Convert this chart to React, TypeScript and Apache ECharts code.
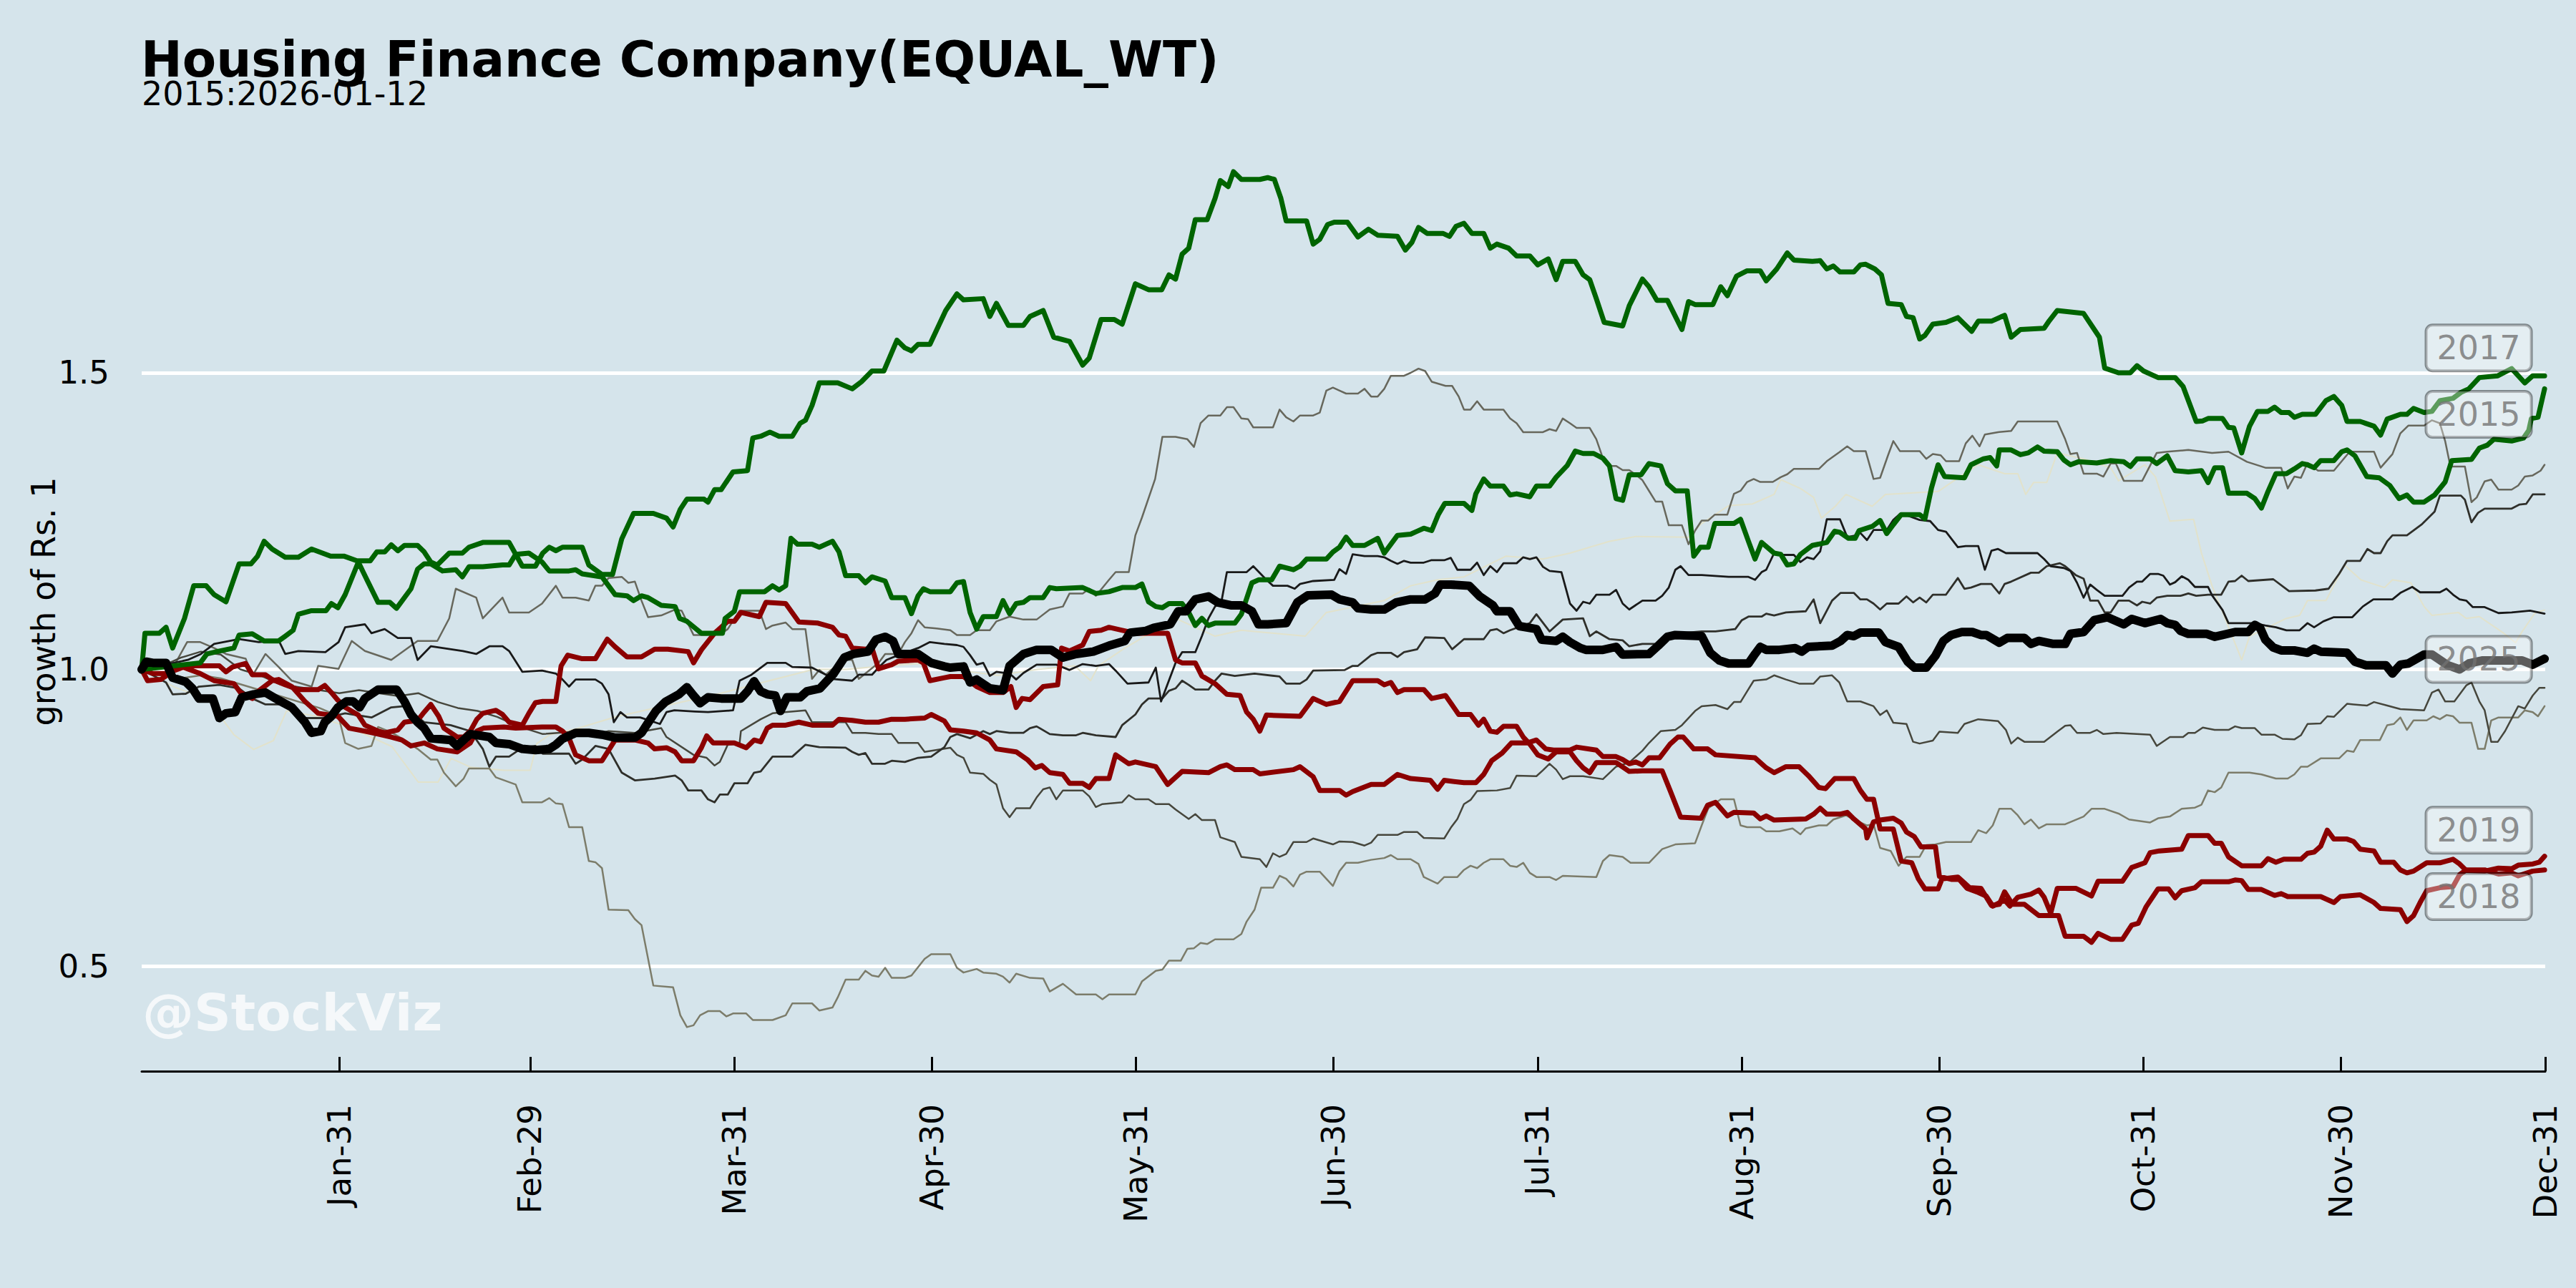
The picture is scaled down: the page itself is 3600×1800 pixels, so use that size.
import React, { useEffect, useRef } from 'react';
import * as echarts from 'echarts';

const FONT = '"DejaVu Sans", "Liberation Sans", sans-serif';

const titleText = 'Housing Finance Company(EQUAL_WT)';
const subtitleText = '2015:2026-01-12';
const watermarkText = '@StockViz';
const yAxisName = 'growth of Rs. 1';

const tickDays = [30, 59, 90, 120, 151, 181, 212, 243, 273, 304, 334, 365];
const tickLabels = ['Jan-31', 'Feb-29', 'Mar-31', 'Apr-30', 'May-31', 'Jun-30', 'Jul-31', 'Aug-31', 'Sep-30', 'Oct-31', 'Nov-30', 'Dec-31'];
const yTicks = [0.5, 1.0, 1.5];
const yTickLabels = ['0.5', '1.0', '1.5'];
const Y_MIN = 0.3227;
const Y_MAX = 1.9065;

const labelYears = ['2017', '2015', '2025', '2019', '2018'];
const labelValues = [1.542, 1.43, 1.017, 0.729, 0.617];
const labelDay = 354.9;

const y2017 = [[0,1.0],[0.5,1.061],[2.7,1.061],[3.7,1.071],[4.7,1.036],[6.5,1.086],[7.9,1.141],[9.8,1.141],[11.0,1.126],[12.8,1.114],[14.8,1.178],[16.6,1.178],[17.6,1.191],[18.6,1.216],[19.8,1.203],[21.8,1.189],[23.8,1.189],[25.8,1.203],[28.7,1.191],[30.7,1.191],[32.7,1.183],[34.7,1.183],[35.7,1.198],[36.9,1.198],[37.9,1.210],[38.9,1.200],[39.9,1.209],[41.9,1.209],[42.9,1.198],[43.9,1.181],[44.9,1.176],[46.7,1.196],[48.7,1.196],[49.7,1.206],[51.8,1.214],[55.8,1.214],[57.8,1.174],[59.8,1.174],[60.9,1.196],[61.9,1.206],[62.9,1.200],[63.9,1.206],[66.9,1.206],[67.9,1.176],[69.9,1.160],[71.5,1.160],[72.9,1.220],[74.7,1.263],[77.7,1.263],[79.7,1.255],[80.7,1.240],[81.8,1.270],[82.8,1.287],[85.4,1.287],[86.0,1.282],[87.0,1.303],[88.0,1.303],[89.8,1.333],[92.0,1.335],[92.8,1.390],[94.0,1.393],[95.4,1.400],[96.8,1.393],[98.8,1.393],[100.0,1.415],[100.8,1.420],[101.8,1.445],[102.9,1.483],[105.7,1.483],[107.9,1.473],[109.3,1.485],[110.9,1.503],[112.7,1.503],[114.7,1.555],[115.9,1.542],[116.9,1.537],[117.9,1.548],[119.7,1.548],[122.1,1.605],[123.8,1.633],[124.8,1.623],[127.8,1.625],[128.8,1.595],[129.8,1.617],[131.6,1.580],[133.9,1.580],[134.9,1.595],[136.9,1.605],[138.5,1.560],[140.9,1.553],[142.9,1.513],[143.9,1.525],[145.7,1.590],[147.7,1.590],[148.9,1.582],[150.9,1.650],[152.9,1.640],[154.9,1.640],[156.0,1.665],[157.0,1.658],[158.0,1.700],[159.0,1.710],[160.0,1.758],[161.8,1.758],[163.0,1.794],[163.8,1.824],[165.0,1.814],[165.8,1.839],[167.0,1.826],[169.8,1.826],[171.0,1.829],[172.0,1.826],[173.0,1.794],[173.8,1.756],[176.9,1.756],[177.9,1.717],[178.9,1.725],[180.1,1.750],[181.1,1.754],[183.1,1.754],[184.7,1.729],[186.3,1.742],[187.7,1.732],[190.7,1.730],[191.9,1.707],[192.9,1.720],[193.9,1.745],[195.2,1.735],[197.6,1.735],[198.6,1.730],[199.6,1.747],[200.8,1.752],[202.0,1.735],[203.8,1.735],[204.8,1.710],[205.8,1.717],[207.6,1.710],[208.8,1.697],[210.8,1.697],[212.0,1.682],[213.6,1.692],[214.8,1.657],[215.8,1.688],[217.7,1.688],[218.9,1.665],[219.9,1.657],[220.9,1.625],[222.1,1.585],[224.9,1.579],[225.9,1.613],[227.9,1.658],[228.9,1.645],[230.1,1.622],[231.7,1.622],[233.9,1.573],[234.9,1.620],[235.9,1.615],[238.6,1.615],[239.8,1.645],[240.8,1.630],[242.2,1.663],[243.8,1.672],[245.8,1.672],[246.7,1.655],[248.3,1.675],[249.9,1.702],[250.9,1.690],[253.7,1.688],[254.9,1.689],[255.9,1.675],[256.9,1.680],[257.9,1.670],[260.0,1.670],[261.0,1.682],[261.8,1.683],[263.2,1.675],[264.2,1.665],[265.2,1.617],[267.2,1.615],[268.0,1.595],[269.0,1.593],[270.0,1.557],[270.8,1.563],[272.0,1.582],[274.0,1.585],[275.8,1.593],[277.9,1.570],[278.9,1.587],[280.9,1.587],[282.9,1.597],[283.9,1.560],[285.3,1.573],[288.9,1.575],[289.7,1.588],[290.9,1.605],[294.9,1.600],[297.3,1.560],[298.1,1.508],[300.2,1.500],[302.0,1.500],[303.0,1.512],[304.0,1.503],[306.2,1.492],[308.8,1.492],[310.0,1.477],[312.0,1.418],[313.0,1.419],[313.8,1.423],[316.0,1.423],[316.9,1.408],[317.7,1.407],[318.9,1.365],[320.1,1.410],[321.3,1.435],[322.9,1.435],[323.9,1.442],[324.9,1.433],[326.1,1.433],[326.9,1.425],[328.1,1.430],[330.1,1.430],[331.7,1.453],[332.9,1.460],[334.1,1.445],[334.9,1.418],[336.9,1.418],[339.0,1.410],[340.0,1.395],[341.0,1.422],[343.0,1.430],[344.0,1.430],[345.0,1.440],[346.6,1.433],[347.8,1.435],[349.0,1.453],[351.0,1.457],[352.2,1.467],[353.4,1.473],[355.0,1.492],[357.8,1.495],[359.9,1.507],[361.9,1.483],[363.1,1.495],[364.9,1.495]];

const y2015 = [[0,1.0],[4.9,1.006],[8.9,1.011],[9.9,1.026],[11.8,1.031],[14.0,1.036],[14.8,1.058],[16.8,1.060],[18.6,1.048],[20.8,1.048],[21.8,1.056],[23.0,1.066],[23.8,1.093],[25.8,1.099],[28.0,1.099],[28.8,1.111],[29.8,1.104],[30.9,1.126],[32.9,1.181],[33.9,1.158],[35.9,1.113],[37.7,1.113],[38.7,1.103],[40.9,1.136],[41.9,1.169],[42.9,1.178],[43.9,1.178],[45.7,1.166],[47.7,1.168],[48.7,1.156],[49.7,1.173],[51.8,1.173],[54.8,1.176],[55.8,1.176],[56.8,1.194],[58.8,1.196],[60.8,1.181],[61.9,1.166],[64.9,1.166],[65.9,1.168],[66.9,1.161],[69.9,1.156],[71.9,1.126],[73.7,1.124],[74.7,1.116],[75.9,1.124],[76.9,1.121],[78.9,1.108],[81.0,1.106],[81.7,1.086],[82.8,1.081],[85.0,1.061],[88.2,1.061],[88.6,1.086],[90.0,1.098],[90.8,1.131],[94.6,1.131],[95.8,1.141],[96.8,1.134],[97.8,1.141],[98.6,1.221],[99.6,1.211],[101.8,1.211],[102.9,1.206],[104.9,1.216],[105.9,1.198],[106.9,1.158],[108.9,1.158],[109.9,1.146],[110.9,1.156],[112.9,1.149],[113.9,1.121],[115.9,1.121],[116.9,1.094],[117.9,1.124],[118.7,1.136],[119.7,1.131],[122.8,1.131],[123.8,1.146],[124.8,1.148],[125.8,1.096],[126.8,1.068],[127.8,1.089],[129.8,1.089],[130.8,1.116],[131.8,1.094],[132.8,1.111],[133.9,1.113],[134.9,1.121],[136.9,1.121],[137.9,1.138],[138.9,1.136],[142.9,1.138],[144.9,1.128],[146.9,1.131],[148.9,1.138],[150.9,1.138],[151.9,1.144],[152.9,1.114],[154.0,1.106],[155.0,1.104],[156.0,1.111],[158.0,1.111],[159.0,1.096],[160.0,1.074],[161.0,1.086],[162.0,1.074],[163.0,1.078],[166.0,1.078],[167.0,1.093],[168.6,1.146],[169.6,1.151],[171.6,1.151],[172.8,1.174],[174.9,1.168],[175.9,1.174],[176.9,1.186],[179.9,1.186],[180.9,1.198],[181.9,1.206],[182.9,1.223],[183.9,1.209],[185.7,1.209],[187.7,1.221],[188.7,1.196],[190.7,1.226],[192.7,1.228],[193.7,1.233],[194.7,1.238],[195.9,1.234],[196.9,1.261],[197.9,1.280],[200.8,1.280],[202.0,1.268],[202.6,1.296],[203.8,1.321],[204.8,1.309],[206.8,1.309],[207.8,1.294],[208.8,1.296],[210.8,1.291],[211.8,1.309],[213.8,1.309],[214.8,1.324],[216.5,1.344],[217.7,1.368],[218.9,1.364],[220.5,1.364],[221.9,1.356],[222.9,1.343],[223.9,1.288],[224.9,1.285],[225.9,1.328],[227.7,1.328],[228.9,1.347],[230.7,1.343],[231.7,1.313],[232.9,1.301],[234.7,1.301],[235.7,1.191],[236.7,1.206],[237.9,1.206],[238.9,1.246],[241.8,1.246],[242.8,1.253],[244.0,1.216],[245.0,1.186],[246.0,1.214],[247.9,1.196],[248.9,1.194],[249.9,1.176],[250.9,1.178],[251.9,1.194],[253.7,1.209],[255.9,1.214],[257.1,1.233],[257.9,1.231],[259.2,1.221],[260.2,1.221],[260.8,1.234],[262.8,1.241],[264.0,1.251],[265.0,1.229],[266.0,1.244],[267.2,1.261],[270.0,1.261],[270.8,1.254],[271.8,1.306],[272.8,1.345],[273.8,1.325],[276.8,1.323],[277.8,1.345],[279.7,1.355],[280.7,1.357],[281.7,1.343],[282.1,1.370],[283.9,1.370],[285.3,1.362],[286.5,1.365],[287.9,1.375],[288.9,1.368],[290.9,1.367],[291.9,1.353],[292.9,1.345],[294.1,1.350],[296.9,1.348],[299.0,1.352],[301.0,1.350],[302.0,1.342],[303.0,1.355],[305.0,1.355],[306.0,1.347],[307.6,1.360],[308.8,1.335],[310.8,1.333],[312.8,1.335],[313.8,1.315],[314.8,1.340],[316.0,1.340],[316.9,1.297],[319.7,1.297],[320.9,1.288],[321.9,1.272],[322.9,1.300],[324.1,1.330],[325.7,1.330],[326.9,1.338],[328.1,1.347],[328.9,1.345],[329.9,1.340],[330.9,1.352],[332.9,1.352],[334.1,1.367],[334.9,1.370],[336.1,1.360],[337.9,1.325],[339.8,1.323],[341.4,1.310],[342.8,1.288],[344.0,1.294],[345.0,1.282],[346.6,1.282],[348.2,1.294],[349.8,1.316],[350.8,1.352],[353.8,1.354],[355.0,1.373],[356.2,1.378],[357.2,1.388],[359.9,1.385],[361.7,1.390],[362.5,1.403],[362.9,1.423],[363.9,1.425],[364.9,1.473]];

const y2025 = [[0,1.0],[0.7,1.013],[1.7,1.011],[3.7,1.011],[4.7,0.986],[6.7,0.979],[7.7,0.968],[8.7,0.951],[10.8,0.951],[11.8,0.918],[12.8,0.926],[14.2,0.928],[15.2,0.953],[17.0,0.958],[18.8,0.961],[20.8,0.948],[22.8,0.936],[24.8,0.911],[25.8,0.893],[27.2,0.896],[27.8,0.911],[28.8,0.921],[29.8,0.936],[31.1,0.946],[32.1,0.946],[33.1,0.936],[33.9,0.951],[35.9,0.966],[38.7,0.966],[39.9,0.946],[40.9,0.924],[41.9,0.911],[42.9,0.901],[43.9,0.884],[46.9,0.881],[47.9,0.871],[48.9,0.881],[49.9,0.891],[52.8,0.886],[53.8,0.876],[55.8,0.874],[57.8,0.866],[59.8,0.864],[61.9,0.866],[62.9,0.873],[63.9,0.883],[65.9,0.893],[67.9,0.893],[69.9,0.890],[71.9,0.885],[74.9,0.885],[75.9,0.893],[76.9,0.910],[78.1,0.930],[79.5,0.945],[81.6,0.958],[82.8,0.970],[83.8,0.956],[84.8,0.943],[86.0,0.953],[88.0,0.951],[91.0,0.951],[92.0,0.963],[93.0,0.980],[94.0,0.963],[95.0,0.958],[96.2,0.956],[97.0,0.930],[98.0,0.953],[100.0,0.953],[101.0,0.963],[103.0,0.968],[105.1,0.993],[106.7,1.020],[108.1,1.026],[110.3,1.030],[111.5,1.050],[112.9,1.055],[114.1,1.048],[114.9,1.026],[117.9,1.026],[118.7,1.020],[119.9,1.011],[121.9,1.005],[122.8,1.003],[124.8,1.005],[125.8,0.978],[126.8,0.983],[128.8,0.968],[130.8,0.965],[131.8,1.006],[133.9,1.026],[135.9,1.033],[138.1,1.033],[139.9,1.020],[141.9,1.026],[144.5,1.030],[146.9,1.040],[149.3,1.048],[150.1,1.062],[152.5,1.065],[153.7,1.070],[156.2,1.076],[157.4,1.098],[158.6,1.098],[160.0,1.118],[162.0,1.123],[163.4,1.113],[165.4,1.108],[167.0,1.108],[168.6,1.098],[169.6,1.076],[171.0,1.076],[173.8,1.078],[175.5,1.113],[177.1,1.125],[180.7,1.126],[181.9,1.118],[183.9,1.113],[184.7,1.103],[186.7,1.101],[188.7,1.101],[190.5,1.113],[192.7,1.118],[194.9,1.118],[196.4,1.128],[197.2,1.143],[198.8,1.143],[201.6,1.141],[203.2,1.123],[205.2,1.108],[205.8,1.098],[207.8,1.098],[209.2,1.073],[211.8,1.068],[212.6,1.050],[214.8,1.048],[215.8,1.055],[216.9,1.046],[218.5,1.036],[219.3,1.033],[221.9,1.033],[223.9,1.038],[224.9,1.025],[228.9,1.026],[230.3,1.040],[231.7,1.055],[232.9,1.058],[236.9,1.056],[238.2,1.028],[239.6,1.015],[241.0,1.010],[244.0,1.010],[245.0,1.026],[245.8,1.038],[246.7,1.033],[248.7,1.033],[251.1,1.036],[252.1,1.030],[253.1,1.038],[256.7,1.040],[258.0,1.048],[259.0,1.058],[260.0,1.056],[261.0,1.062],[263.8,1.062],[264.8,1.046],[266.8,1.038],[268.2,1.013],[269.2,1.003],[271.0,1.003],[272.4,1.023],[273.6,1.048],[274.8,1.058],[276.4,1.063],[278.0,1.063],[279.3,1.058],[280.1,1.058],[282.1,1.045],[283.3,1.053],[285.9,1.053],[286.9,1.043],[288.1,1.048],[290.3,1.043],[292.1,1.043],[292.9,1.060],[294.9,1.063],[296.5,1.083],[298.5,1.088],[301.0,1.076],[302.2,1.085],[304.2,1.078],[306.6,1.085],[307.6,1.078],[308.8,1.075],[309.6,1.065],[310.8,1.060],[313.6,1.060],[314.8,1.055],[316.0,1.058],[317.9,1.063],[319.9,1.063],[320.9,1.075],[321.7,1.070],[322.5,1.050],[323.7,1.037],[324.9,1.032],[326.9,1.032],[328.9,1.028],[329.9,1.035],[330.9,1.030],[334.9,1.028],[336.1,1.013],[337.8,1.007],[340.8,1.007],[341.8,0.993],[343.0,1.008],[344.2,1.010],[346.6,1.025],[347.8,1.025],[350.2,1.007],[352.0,1.000],[353.4,1.010],[355.4,1.015],[359.9,1.015],[361.5,1.015],[363.1,1.008],[364.9,1.018]];

const y2018 = [[0,1.0],[1.7,0.993],[3.7,0.993],[5.7,1.006],[8.9,0.993],[11.0,0.981],[14.0,0.976],[15.0,0.961],[16.8,0.951],[17.8,0.964],[19.8,0.981],[20.8,0.983],[22.8,0.971],[24.8,0.946],[26.8,0.926],[29.8,0.921],[31.5,0.901],[33.9,0.896],[35.9,0.891],[37.9,0.886],[39.5,0.881],[40.9,0.871],[42.9,0.876],[44.9,0.866],[47.9,0.861],[49.9,0.876],[50.9,0.896],[51.9,0.901],[55.0,0.903],[56.8,0.901],[60.8,0.903],[62.9,0.903],[63.9,0.896],[64.9,0.884],[65.9,0.856],[67.9,0.846],[69.9,0.846],[71.9,0.881],[74.9,0.881],[76.9,0.876],[77.9,0.866],[79.7,0.868],[81.0,0.861],[82.0,0.846],[83.8,0.846],[85.0,0.868],[85.8,0.888],[86.8,0.876],[90.0,0.876],[91.8,0.868],[93.0,0.881],[94.0,0.878],[95.0,0.901],[95.8,0.906],[97.8,0.906],[99.8,0.911],[101.8,0.906],[104.9,0.906],[105.9,0.916],[107.9,0.914],[109.9,0.911],[111.9,0.911],[113.9,0.916],[115.9,0.916],[118.9,0.918],[119.9,0.924],[121.9,0.913],[122.8,0.898],[124.8,0.896],[126.8,0.893],[128.8,0.881],[129.8,0.866],[132.8,0.861],[134.5,0.848],[135.7,0.834],[136.7,0.838],[137.9,0.826],[139.9,0.823],[140.9,0.808],[142.9,0.808],[143.9,0.801],[144.9,0.816],[146.9,0.816],[147.9,0.856],[149.9,0.841],[150.9,0.844],[154.0,0.836],[155.8,0.806],[158.0,0.828],[162.0,0.826],[163.8,0.836],[164.8,0.839],[166.0,0.831],[168.8,0.831],[169.8,0.824],[174.9,0.831],[175.9,0.836],[177.9,0.819],[178.9,0.796],[181.9,0.796],[182.9,0.788],[183.9,0.794],[186.7,0.806],[188.7,0.806],[190.7,0.823],[192.7,0.816],[195.7,0.813],[196.8,0.798],[197.8,0.813],[200.8,0.809],[202.6,0.809],[203.8,0.823],[205.0,0.846],[206.6,0.859],[208.0,0.876],[210.4,0.876],[211.8,0.881],[213.2,0.866],[214.4,0.864],[216.9,0.864],[217.9,0.869],[220.9,0.864],[221.9,0.853],[223.9,0.853],[224.9,0.848],[225.9,0.841],[226.9,0.844],[227.9,0.839],[228.9,0.851],[230.5,0.851],[232.1,0.874],[233.3,0.886],[234.1,0.886],[235.7,0.866],[237.8,0.866],[239.0,0.856],[245.0,0.851],[246.0,0.841],[246.7,0.834],[247.9,0.826],[249.7,0.836],[251.7,0.836],[253.1,0.821],[254.7,0.801],[255.7,0.799],[257.1,0.816],[260.0,0.816],[261.0,0.796],[262.0,0.781],[263.0,0.781],[264.0,0.731],[266.0,0.731],[267.2,0.677],[268.8,0.674],[269.8,0.647],[270.8,0.630],[272.8,0.630],[273.4,0.647],[275.8,0.650],[277.6,0.632],[279.3,0.631],[280.9,0.602],[282.1,0.604],[282.9,0.625],[284.1,0.604],[285.9,0.604],[288.1,0.585],[291.1,0.585],[292.1,0.550],[294.9,0.550],[296.1,0.540],[297.1,0.555],[299.0,0.545],[300.8,0.545],[302.2,0.569],[303.2,0.572],[304.4,0.600],[306.2,0.630],[307.8,0.630],[308.8,0.615],[309.8,0.627],[311.8,0.632],[312.8,0.642],[316.9,0.642],[317.9,0.645],[318.9,0.644],[319.9,0.629],[321.9,0.629],[323.9,0.619],[324.9,0.622],[325.9,0.617],[330.9,0.617],[332.9,0.607],[333.9,0.617],[336.9,0.620],[339.0,0.607],[340.0,0.597],[343.0,0.595],[344.0,0.575],[345.0,0.585],[346.0,0.607],[347.0,0.627],[349.0,0.632],[351.0,0.634],[352.0,0.654],[353.0,0.662],[355.8,0.662],[357.9,0.655],[359.9,0.657],[360.9,0.652],[363.1,0.660],[364.9,0.662]];

const y2019 = [[0,1.0],[0.9,0.981],[2.9,0.983],[4.9,0.998],[6.9,1.006],[11.8,1.006],[12.8,0.996],[13.8,1.004],[15.8,1.010],[16.8,0.991],[18.8,0.991],[19.8,0.983],[21.8,0.974],[23.8,0.966],[26.8,0.966],[27.8,0.973],[28.8,0.961],[29.8,0.948],[30.9,0.936],[32.9,0.923],[33.9,0.906],[35.9,0.896],[36.9,0.893],[38.9,0.898],[39.9,0.911],[41.9,0.914],[42.9,0.928],[43.9,0.941],[45.1,0.921],[45.9,0.901],[47.9,0.886],[48.9,0.886],[49.9,0.896],[50.9,0.916],[51.8,0.926],[53.8,0.931],[54.8,0.924],[55.8,0.911],[57.8,0.906],[58.8,0.926],[59.8,0.944],[60.9,0.946],[62.9,0.946],[63.7,1.006],[64.7,1.024],[66.9,1.018],[68.9,1.018],[70.7,1.051],[71.9,1.038],[73.7,1.021],[75.9,1.021],[77.9,1.034],[79.9,1.034],[83.0,1.030],[83.8,1.011],[85.0,1.033],[87.0,1.061],[89.0,1.081],[90.0,1.081],[91.0,1.096],[93.8,1.089],[94.8,1.113],[97.8,1.111],[99.8,1.080],[102.7,1.078],[104.9,1.071],[105.9,1.058],[106.9,1.056],[107.9,1.036],[109.9,1.034],[110.9,1.036],[111.9,1.001],[113.9,1.008],[114.9,1.014],[117.9,1.016],[118.7,1.011],[119.7,0.981],[121.9,0.986],[122.8,0.988],[124.8,0.988],[126.8,0.971],[128.8,0.961],[130.8,0.961],[132.0,0.971],[132.8,0.936],[133.7,0.951],[134.9,0.949],[136.9,0.971],[139.1,0.974],[139.7,1.036],[140.9,1.031],[142.9,1.041],[143.9,1.064],[145.7,1.066],[146.9,1.071],[148.9,1.066],[150.9,1.061],[155.8,1.061],[157.0,1.016],[158.0,1.011],[160.0,1.011],[161.0,0.989],[163.0,0.976],[164.8,0.958],[166.8,0.956],[167.8,0.928],[168.8,0.916],[169.8,0.896],[170.8,0.923],[175.9,0.921],[177.9,0.951],[179.9,0.941],[181.9,0.946],[183.9,0.981],[187.7,0.981],[188.7,0.974],[189.7,0.978],[190.7,0.961],[191.7,0.966],[194.7,0.966],[195.9,0.951],[198.0,0.956],[200.0,0.924],[201.8,0.924],[203.0,0.906],[203.8,0.916],[204.8,0.896],[205.8,0.894],[206.8,0.904],[208.8,0.904],[209.8,0.886],[210.8,0.874],[212.0,0.856],[213.6,0.849],[214.8,0.861],[216.9,0.861],[217.9,0.846],[218.9,0.834],[219.9,0.826],[220.9,0.843],[223.9,0.843],[225.9,0.828],[227.9,0.829],[230.9,0.829],[232.1,0.796],[233.7,0.751],[236.8,0.749],[237.8,0.771],[239.0,0.776],[240.8,0.753],[241.8,0.759],[244.8,0.758],[245.8,0.748],[246.7,0.753],[247.9,0.746],[252.7,0.748],[253.9,0.756],[254.9,0.766],[255.9,0.756],[257.9,0.756],[259.0,0.759],[260.0,0.748],[261.8,0.731],[262.0,0.716],[263.0,0.743],[264.0,0.746],[266.0,0.749],[267.2,0.741],[268.0,0.726],[269.2,0.718],[270.2,0.701],[272.4,0.701],[273.0,0.651],[274.8,0.646],[276.0,0.646],[277.2,0.631],[278.9,0.624],[280.1,0.618],[281.1,0.601],[282.9,0.611],[283.7,0.601],[284.9,0.616],[286.9,0.621],[288.1,0.628],[288.9,0.616],[289.9,0.589],[290.9,0.631],[293.7,0.631],[296.1,0.618],[297.1,0.643],[300.8,0.643],[302.2,0.666],[304.2,0.674],[305.0,0.691],[306.4,0.694],[309.8,0.697],[310.8,0.720],[313.8,0.720],[314.8,0.707],[315.8,0.707],[316.9,0.684],[318.9,0.669],[321.9,0.669],[322.9,0.681],[324.1,0.675],[325.3,0.680],[327.9,0.680],[328.9,0.690],[329.9,0.692],[330.9,0.702],[331.9,0.729],[332.9,0.714],[334.9,0.714],[335.9,0.710],[336.9,0.697],[339.0,0.694],[340.0,0.675],[342.0,0.675],[343.0,0.662],[344.0,0.657],[345.0,0.660],[347.0,0.674],[349.0,0.674],[351.0,0.680],[352.0,0.672],[353.0,0.661],[355.8,0.660],[357.9,0.665],[359.9,0.664],[360.9,0.670],[363.1,0.672],[364.1,0.675],[364.9,0.685]];

const y2016 = [[0,1.0],[2.9,1.006],[4.9,1.006],[6.9,1.046],[8.9,1.046],[11.0,1.036],[12.8,1.026],[15.8,1.018],[16.8,0.989],[18.8,1.026],[20.8,1.004],[22.8,0.981],[25.8,0.971],[26.8,1.006],[29.9,1.001],[31.9,1.048],[33.9,1.031],[37.9,1.016],[41.9,1.048],[44.9,1.048],[46.7,1.086],[47.7,1.136],[50.8,1.121],[51.8,1.086],[54.8,1.121],[55.8,1.096],[58.8,1.096],[60.8,1.111],[62.9,1.141],[63.9,1.121],[65.9,1.121],[67.9,1.116],[68.9,1.141],[69.9,1.141],[70.9,1.154],[72.9,1.156],[73.9,1.146],[74.9,1.148],[75.9,1.116],[76.9,1.088],[78.9,1.091],[81.0,1.101],[82.0,1.099],[83.8,1.058],[85.8,1.058],[88.0,1.060],[89.0,1.068],[90.8,1.099],[93.8,1.099],[94.8,1.068],[95.8,1.074],[97.8,1.079],[98.8,1.068],[100.8,1.068],[101.8,0.984],[102.9,0.999],[103.9,0.991],[104.9,1.001],[106.9,1.016],[107.9,1.016],[108.9,0.984],[109.9,0.993],[111.9,1.011],[112.9,1.026],[114.9,1.026],[115.9,1.046],[116.9,1.061],[117.9,1.083],[118.9,1.071],[120.7,1.069],[122.8,1.066],[123.8,1.058],[125.8,1.058],[126.8,1.066],[128.8,1.066],[129.8,1.081],[131.8,1.089],[133.9,1.084],[135.9,1.084],[137.9,1.101],[139.9,1.106],[140.9,1.128],[142.9,1.128],[143.9,1.136],[144.9,1.124],[146.9,1.151],[147.9,1.164],[149.9,1.164],[150.9,1.226],[151.9,1.256],[153.9,1.321],[155.0,1.392],[157.0,1.392],[158.8,1.388],[159.8,1.375],[160.8,1.415],[162.0,1.428],[163.8,1.428],[164.8,1.442],[165.8,1.442],[167.0,1.423],[168.0,1.422],[168.8,1.408],[171.8,1.408],[172.8,1.438],[173.8,1.425],[174.9,1.418],[175.9,1.428],[177.9,1.428],[178.9,1.433],[179.9,1.470],[180.9,1.475],[181.9,1.470],[182.9,1.465],[184.7,1.465],[185.7,1.473],[186.7,1.460],[187.7,1.460],[188.7,1.473],[189.7,1.495],[191.7,1.495],[192.7,1.500],[193.9,1.507],[194.9,1.503],[195.9,1.485],[198.0,1.478],[199.0,1.478],[200.0,1.460],[200.8,1.438],[201.8,1.438],[202.8,1.452],[203.8,1.438],[206.8,1.438],[207.8,1.423],[208.8,1.415],[209.8,1.400],[212.8,1.400],[213.8,1.405],[214.8,1.402],[215.8,1.423],[216.9,1.415],[217.9,1.407],[219.9,1.407],[220.9,1.388],[221.9,1.356],[222.9,1.343],[223.9,1.343],[224.9,1.336],[225.9,1.336],[226.9,1.328],[227.9,1.319],[228.9,1.301],[229.9,1.283],[230.9,1.283],[231.9,1.243],[233.9,1.243],[234.9,1.211],[235.9,1.234],[236.9,1.251],[237.9,1.251],[238.9,1.261],[240.8,1.261],[241.8,1.296],[242.8,1.301],[243.8,1.316],[244.8,1.321],[245.8,1.316],[247.7,1.316],[248.9,1.324],[249.9,1.329],[250.9,1.338],[254.7,1.338],[255.9,1.351],[257.8,1.366],[259.0,1.376],[260.0,1.368],[261.8,1.368],[263.0,1.321],[264.0,1.323],[265.2,1.361],[266.0,1.385],[267.0,1.368],[270.0,1.368],[271.0,1.355],[272.0,1.363],[273.2,1.361],[274.0,1.351],[276.0,1.351],[277.0,1.381],[278.0,1.394],[279.1,1.376],[279.9,1.396],[281.9,1.400],[283.9,1.402],[284.9,1.418],[290.9,1.418],[292.1,1.388],[292.9,1.363],[293.9,1.365],[294.9,1.330],[296.9,1.330],[297.9,1.325],[299.0,1.347],[299.8,1.347],[301.0,1.318],[303.8,1.318],[306.0,1.365],[307.6,1.367],[310.8,1.370],[314.4,1.365],[316.9,1.367],[319.7,1.350],[322.5,1.340],[324.9,1.340],[325.9,1.305],[326.9,1.325],[327.9,1.323],[328.9,1.348],[330.5,1.335],[332.9,1.335],[335.3,1.367],[339.0,1.367],[340.0,1.340],[341.8,1.363],[343.0,1.398],[344.2,1.411],[346.6,1.411],[347.8,1.420],[349.0,1.415],[349.8,1.385],[350.6,1.342],[352.8,1.342],[353.8,1.282],[354.6,1.290],[355.8,1.317],[356.8,1.320],[357.9,1.303],[359.9,1.303],[360.9,1.310],[361.9,1.325],[363.1,1.327],[364.3,1.335],[364.9,1.345]];

const y2024 = [[0,1.0],[7.0,1.016],[9.0,1.026],[11.0,1.043],[14.8,1.051],[17.8,1.046],[20.8,1.049],[21.8,1.026],[23.8,1.031],[27.9,1.029],[29.9,1.046],[30.9,1.071],[33.9,1.076],[34.9,1.061],[36.9,1.068],[38.9,1.053],[40.9,1.053],[41.9,1.016],[43.9,1.039],[48.8,1.031],[50.8,1.026],[52.8,1.039],[54.8,1.039],[55.8,1.031],[57.8,0.996],[60.8,0.998],[62.9,0.993],[63.9,0.983],[64.9,0.971],[65.9,0.983],[68.9,0.983],[69.9,0.976],[70.9,0.958],[71.7,0.911],[72.7,0.928],[73.7,0.919],[75.7,0.919],[78.7,0.908],[79.7,0.928],[80.9,0.931],[84.0,0.929],[86.0,0.928],[89.8,0.931],[90.8,0.981],[92.6,0.991],[95.0,1.011],[97.8,1.011],[98.8,1.004],[101.8,1.003],[103.9,0.991],[104.9,0.984],[107.9,0.981],[108.9,0.991],[110.9,0.991],[111.9,1.003],[113.1,1.016],[114.9,1.024],[115.9,1.028],[117.9,1.036],[119.7,1.046],[121.9,1.043],[123.8,1.041],[124.8,1.038],[125.8,1.024],[126.8,1.008],[127.8,1.011],[128.8,0.989],[129.8,0.996],[131.8,0.993],[132.8,0.983],[133.9,0.994],[135.9,1.008],[138.9,1.008],[140.9,0.999],[142.9,1.009],[144.9,1.006],[146.9,1.009],[147.9,0.998],[149.7,0.976],[152.9,0.978],[154.0,1.003],[154.8,0.946],[157.0,1.011],[158.0,1.029],[160.0,1.029],[161.0,1.056],[162.0,1.086],[163.0,1.106],[164.0,1.116],[164.8,1.164],[167.8,1.164],[168.8,1.174],[170.8,1.151],[171.8,1.141],[174.0,1.141],[175.1,1.136],[175.9,1.144],[177.9,1.149],[181.1,1.151],[181.9,1.169],[182.9,1.161],[183.9,1.194],[185.7,1.191],[187.7,1.191],[188.7,1.189],[189.7,1.183],[190.7,1.178],[191.7,1.183],[192.7,1.180],[194.7,1.180],[195.8,1.184],[197.8,1.184],[198.8,1.188],[199.8,1.168],[201.8,1.168],[202.8,1.180],[203.8,1.159],[204.8,1.174],[205.8,1.164],[206.8,1.179],[208.8,1.179],[209.8,1.189],[210.8,1.186],[211.8,1.189],[212.8,1.173],[213.8,1.166],[215.6,1.164],[216.9,1.111],[217.9,1.099],[218.9,1.114],[219.9,1.111],[220.9,1.126],[222.9,1.126],[223.9,1.134],[224.9,1.111],[225.9,1.101],[227.9,1.116],[229.9,1.116],[230.9,1.124],[231.9,1.138],[232.9,1.168],[233.7,1.174],[234.9,1.159],[236.9,1.159],[241.0,1.156],[244.0,1.156],[245.0,1.151],[246.0,1.164],[246.7,1.168],[247.9,1.196],[248.9,1.193],[250.9,1.193],[251.9,1.181],[252.9,1.189],[253.9,1.186],[254.9,1.199],[255.9,1.253],[257.9,1.253],[259.0,1.223],[260.0,1.225],[261.0,1.230],[262.0,1.218],[263.0,1.235],[265.0,1.235],[266.0,1.252],[267.0,1.262],[268.0,1.260],[270.0,1.252],[271.6,1.250],[272.8,1.235],[274.0,1.232],[275.8,1.206],[277.0,1.208],[278.9,1.208],[279.9,1.168],[280.9,1.200],[281.9,1.203],[283.1,1.196],[287.9,1.196],[288.9,1.186],[289.9,1.174],[291.9,1.171],[292.9,1.166],[293.9,1.146],[294.9,1.121],[295.9,1.143],[296.9,1.134],[298.1,1.124],[300.8,1.124],[301.8,1.138],[303.0,1.148],[303.8,1.148],[305.0,1.161],[306.2,1.161],[307.0,1.158],[308.0,1.143],[308.8,1.147],[309.8,1.157],[310.8,1.151],[311.8,1.139],[313.8,1.139],[314.4,1.125],[316.0,1.100],[316.9,1.078],[320.7,1.078],[322.5,1.074],[324.1,1.071],[325.7,1.066],[327.7,1.066],[328.9,1.078],[329.9,1.071],[331.3,1.081],[332.9,1.088],[335.7,1.088],[337.3,1.106],[338.9,1.118],[341.8,1.118],[343.0,1.129],[344.8,1.139],[346.0,1.130],[349.0,1.130],[350.0,1.136],[351.0,1.126],[352.0,1.118],[353.0,1.116],[354.0,1.105],[355.8,1.105],[357.9,1.095],[359.9,1.096],[362.7,1.099],[364.9,1.094]];

const y2023 = [[0,1.0],[3.7,0.978],[4.7,0.958],[6.7,0.959],[8.7,0.971],[11.8,0.974],[14.8,0.968],[16.8,0.951],[18.8,0.941],[21.8,0.941],[24.8,0.918],[27.8,0.918],[30.9,0.926],[34.9,0.919],[37.9,0.936],[39.9,0.938],[42.9,0.911],[46.9,0.906],[49.9,0.896],[51.8,0.866],[52.8,0.836],[53.8,0.853],[55.8,0.853],[57.8,0.868],[59.8,0.871],[60.9,0.858],[64.9,0.858],[65.9,0.841],[66.9,0.848],[68.9,0.871],[70.9,0.866],[72.9,0.826],[74.9,0.813],[77.9,0.816],[81.0,0.821],[82.0,0.813],[83.0,0.796],[85.0,0.796],[86.0,0.781],[87.0,0.776],[87.8,0.789],[89.0,0.789],[90.0,0.808],[92.0,0.808],[93.0,0.826],[94.0,0.828],[95.8,0.853],[98.8,0.853],[100.8,0.873],[102.9,0.869],[106.9,0.868],[107.9,0.861],[108.9,0.856],[109.9,0.859],[110.9,0.841],[112.9,0.841],[113.9,0.846],[115.9,0.844],[117.9,0.851],[119.9,0.853],[121.9,0.869],[122.8,0.886],[123.8,0.891],[125.8,0.884],[127.8,0.896],[128.8,0.891],[129.8,0.896],[131.8,0.893],[133.9,0.893],[134.9,0.901],[135.9,0.904],[137.9,0.891],[139.9,0.889],[141.9,0.889],[142.9,0.893],[144.9,0.889],[147.9,0.886],[148.9,0.906],[150.9,0.924],[151.9,0.941],[152.9,0.951],[155.0,0.951],[156.0,0.964],[157.0,0.968],[158.0,0.981],[159.0,0.974],[160.0,0.966],[162.0,0.966],[163.0,0.981],[164.0,0.993],[166.0,0.989],[169.0,0.993],[172.8,0.988],[173.8,0.976],[175.9,0.976],[176.9,0.983],[177.9,0.998],[182.7,0.999],[183.9,1.006],[184.7,1.006],[186.7,1.024],[187.7,1.028],[189.7,1.028],[190.7,1.021],[191.7,1.029],[193.7,1.034],[194.9,1.054],[197.8,1.053],[199.0,1.034],[200.8,1.051],[203.8,1.051],[204.8,1.066],[205.8,1.068],[206.8,1.061],[207.8,1.066],[210.8,1.078],[211.8,1.093],[213.8,1.064],[215.8,1.084],[218.9,1.086],[219.9,1.056],[220.9,1.064],[222.9,1.051],[224.9,1.049],[225.9,1.039],[227.9,1.043],[230.9,1.043],[231.9,1.059],[233.9,1.061],[236.9,1.064],[239.0,1.064],[242.0,1.068],[243.0,1.083],[244.0,1.089],[246.0,1.089],[246.7,1.094],[247.9,1.091],[249.7,1.096],[252.7,1.098],[253.9,1.118],[254.9,1.078],[256.7,1.116],[258.0,1.129],[260.0,1.129],[261.0,1.118],[262.0,1.118],[263.0,1.111],[264.0,1.101],[265.0,1.111],[266.8,1.111],[268.0,1.123],[269.0,1.113],[270.0,1.121],[271.0,1.113],[272.0,1.126],[274.0,1.126],[275.8,1.154],[276.8,1.136],[277.8,1.138],[279.3,1.144],[280.9,1.144],[282.1,1.128],[282.9,1.144],[283.9,1.148],[286.9,1.163],[288.1,1.163],[289.3,1.174],[291.3,1.179],[292.1,1.174],[293.7,1.159],[294.9,1.153],[295.9,1.116],[297.1,1.116],[298.1,1.096],[299.0,1.096],[300.2,1.116],[301.8,1.116],[303.0,1.108],[303.8,1.114],[305.0,1.111],[306.0,1.121],[307.6,1.124],[309.6,1.124],[310.8,1.128],[312.0,1.124],[313.8,1.126],[315.8,1.126],[316.9,1.148],[317.9,1.149],[318.9,1.158],[319.9,1.149],[323.7,1.152],[326.1,1.132],[330.1,1.133],[332.1,1.136],[333.7,1.161],[334.9,1.183],[336.9,1.183],[338.0,1.203],[339.0,1.196],[340.0,1.196],[341.0,1.216],[341.8,1.226],[344.0,1.226],[346.2,1.244],[348.2,1.266],[349.0,1.293],[352.2,1.293],[352.8,1.286],[353.8,1.248],[354.8,1.264],[355.8,1.271],[359.9,1.271],[361.1,1.278],[362.1,1.279],[363.1,1.295],[364.9,1.295]];

const y2022 = [[0,1.0],[3,1.005],[6,1.02],[9,1.03],[12,1.025],[15,1.0],[18,0.99],[21,0.975],[24,0.97],[27,0.965],[30,0.96],[33,0.965],[36,0.96],[39,0.955],[42,0.96],[45,0.945],[48,0.935],[51,0.93],[54,0.92],[57,0.905],[60.9,0.891],[66.9,0.896],[68.9,0.891],[70.9,0.896],[74.9,0.893],[78.9,0.901],[79.7,0.886],[83.8,0.856],[85.8,0.851],[87.0,0.838],[87.8,0.844],[89.0,0.873],[90.8,0.876],[91.0,0.896],[94.0,0.916],[95.8,0.926],[100.8,0.931],[101.8,0.911],[106.9,0.911],[107.9,0.893],[109.9,0.893],[111.9,0.891],[113.9,0.891],[114.9,0.876],[117.9,0.876],[118.9,0.861],[122.8,0.868],[123.8,0.856],[124.8,0.851],[125.8,0.826],[127.8,0.824],[128.8,0.814],[129.8,0.806],[130.8,0.766],[131.8,0.751],[132.8,0.766],[134.9,0.766],[135.9,0.784],[136.9,0.798],[137.9,0.801],[138.9,0.781],[139.9,0.796],[142.9,0.796],[143.9,0.786],[144.9,0.768],[145.9,0.773],[148.9,0.776],[149.9,0.788],[150.9,0.781],[152.9,0.781],[154.0,0.773],[156.0,0.773],[157.0,0.764],[159.0,0.748],[160.0,0.756],[161.0,0.746],[163.0,0.746],[163.8,0.717],[166.0,0.709],[167.0,0.684],[169.8,0.680],[170.8,0.667],[171.8,0.690],[172.8,0.684],[173.8,0.689],[174.9,0.709],[176.9,0.709],[177.9,0.715],[180.9,0.705],[181.9,0.710],[183.9,0.709],[185.7,0.703],[186.7,0.708],[187.7,0.721],[190.7,0.721],[191.7,0.726],[193.7,0.726],[194.7,0.716],[197.8,0.715],[198.8,0.733],[199.8,0.748],[200.8,0.773],[201.8,0.780],[202.8,0.795],[205.8,0.796],[207.8,0.800],[208.8,0.821],[211.8,0.820],[212.8,0.830],[213.8,0.841],[214.8,0.831],[215.8,0.815],[216.9,0.820],[218.9,0.820],[221.9,0.815],[223.9,0.836],[225.9,0.843],[227.9,0.863],[228.9,0.876],[230.7,0.896],[232.9,0.898],[233.9,0.906],[235.9,0.930],[236.9,0.938],[239.0,0.940],[240.8,0.933],[241.8,0.945],[242.8,0.945],[243.8,0.963],[244.8,0.981],[246.7,0.983],[247.9,0.990],[249.7,0.983],[251.7,0.976],[253.9,0.976],[254.9,0.988],[256.7,0.990],[257.8,0.978],[259.0,0.946],[261.0,0.946],[263.0,0.938],[264.0,0.923],[265.0,0.931],[266.0,0.910],[268.0,0.908],[269.0,0.878],[270.0,0.875],[272.0,0.880],[273.0,0.895],[275.8,0.893],[276.8,0.908],[278.9,0.916],[281.9,0.913],[283.1,0.898],[283.9,0.875],[284.9,0.885],[285.9,0.878],[288.9,0.878],[290.9,0.895],[292.1,0.905],[292.9,0.906],[293.9,0.893],[295.9,0.893],[296.9,0.898],[297.9,0.891],[299.9,0.893],[305.0,0.890],[306.0,0.871],[308.0,0.886],[310.0,0.886],[310.8,0.893],[311.8,0.893],[313.0,0.902],[314.8,0.898],[316.9,0.898],[317.9,0.904],[318.9,0.901],[320.9,0.901],[321.9,0.890],[323.9,0.890],[325.1,0.883],[326.9,0.882],[327.9,0.889],[328.9,0.908],[330.9,0.909],[331.9,0.921],[332.9,0.920],[334.9,0.942],[335.9,0.941],[337.9,0.939],[339.0,0.945],[341.0,0.939],[343.0,0.933],[346.6,0.931],[347.8,0.961],[348.8,0.966],[349.8,0.946],[351.2,0.946],[353.0,0.973],[353.8,0.978],[355.0,0.946],[355.8,0.931],[356.8,0.878],[357.8,0.878],[358.9,0.896],[360.9,0.938],[361.9,0.934],[363.1,0.956],[364.1,0.969],[364.9,0.969]];

const y2020 = [[0,1.0],[3,0.99],[6,0.985],[9,0.99],[12,0.985],[15,0.975],[18,0.965],[21,0.955],[24,0.945],[27,0.935],[29.9,0.921],[30.9,0.876],[32.9,0.866],[34.9,0.871],[35.9,0.903],[37.9,0.894],[39.9,0.881],[41.9,0.866],[43.9,0.848],[44.9,0.848],[45.9,0.826],[47.7,0.803],[48.9,0.816],[49.7,0.833],[52.8,0.833],[53.8,0.818],[56.8,0.806],[57.8,0.776],[60.8,0.776],[61.9,0.783],[62.9,0.774],[63.9,0.773],[64.9,0.734],[66.9,0.734],[67.9,0.677],[68.9,0.675],[69.9,0.665],[70.9,0.595],[73.9,0.594],[74.9,0.579],[75.9,0.569],[77.7,0.467],[80.7,0.464],[81.8,0.417],[82.8,0.397],[83.8,0.400],[84.8,0.417],[86.0,0.424],[87.8,0.424],[88.8,0.415],[89.8,0.420],[91.8,0.420],[92.8,0.409],[95.8,0.409],[97.8,0.417],[98.8,0.437],[101.8,0.437],[102.9,0.425],[104.9,0.430],[105.7,0.447],[106.9,0.477],[108.9,0.477],[109.9,0.492],[110.9,0.484],[111.9,0.482],[112.9,0.497],[113.9,0.480],[115.9,0.480],[116.9,0.484],[118.9,0.512],[119.9,0.520],[122.8,0.520],[123.8,0.497],[124.8,0.489],[126.8,0.495],[127.8,0.489],[129.8,0.487],[130.8,0.482],[131.8,0.472],[132.8,0.487],[134.9,0.480],[136.9,0.479],[137.9,0.457],[139.9,0.470],[141.9,0.452],[144.9,0.452],[145.9,0.444],[146.9,0.452],[150.9,0.452],[151.9,0.474],[154.0,0.492],[155.0,0.494],[156.0,0.509],[157.8,0.509],[158.8,0.529],[159.8,0.530],[160.8,0.539],[161.8,0.537],[163.0,0.545],[165.8,0.545],[167.0,0.554],[167.8,0.575],[169.0,0.595],[170.0,0.632],[171.8,0.632],[172.8,0.652],[173.8,0.647],[174.9,0.634],[175.9,0.654],[176.9,0.659],[178.9,0.659],[180.9,0.635],[181.9,0.660],[182.9,0.674],[184.7,0.674],[186.7,0.679],[188.7,0.682],[189.7,0.687],[190.7,0.680],[192.7,0.680],[193.9,0.672],[194.7,0.650],[196.8,0.639],[197.8,0.650],[199.8,0.650],[200.8,0.662],[201.8,0.669],[202.8,0.665],[203.8,0.674],[204.8,0.680],[206.8,0.680],[207.8,0.669],[208.8,0.667],[209.8,0.674],[210.8,0.657],[211.8,0.650],[213.8,0.650],[214.8,0.645],[215.8,0.652],[220.9,0.650],[221.9,0.677],[222.9,0.687],[224.9,0.684],[226.1,0.674],[228.9,0.674],[230.9,0.697],[232.9,0.705],[235.9,0.707],[236.9,0.737],[237.9,0.766],[239.8,0.781],[241.8,0.781],[242.8,0.737],[243.8,0.734],[245.8,0.734],[246.7,0.727],[248.7,0.727],[250.7,0.732],[251.9,0.722],[252.7,0.732],[254.7,0.737],[255.9,0.737],[256.9,0.747],[258.8,0.754],[260.0,0.747],[262.0,0.737],[263.0,0.739],[264.0,0.699],[265.6,0.694],[266.8,0.669],[268.0,0.684],[270.0,0.684],[271.0,0.704],[272.4,0.705],[274.0,0.709],[277.8,0.709],[278.9,0.729],[280.1,0.724],[281.1,0.737],[282.1,0.765],[283.9,0.765],[284.9,0.754],[285.9,0.739],[286.9,0.747],[288.1,0.732],[289.3,0.739],[292.1,0.739],[294.9,0.752],[296.1,0.765],[298.1,0.765],[300.2,0.757],[301.8,0.747],[305.0,0.742],[306.2,0.749],[308.0,0.752],[309.8,0.765],[311.8,0.767],[312.8,0.772],[313.8,0.796],[314.8,0.793],[315.8,0.801],[316.9,0.826],[320.1,0.826],[321.9,0.823],[324.1,0.816],[325.9,0.816],[326.9,0.823],[327.9,0.836],[328.9,0.836],[330.9,0.850],[333.7,0.850],[334.9,0.863],[335.9,0.861],[336.9,0.881],[339.9,0.881],[341.0,0.906],[342.0,0.908],[343.0,0.919],[344.0,0.898],[345.0,0.914],[347.0,0.914],[348.0,0.921],[349.0,0.916],[350.0,0.923],[351.0,0.921],[352.0,0.910],[353.8,0.910],[354.8,0.866],[355.8,0.866],[356.8,0.914],[357.9,0.919],[360.9,0.919],[361.9,0.931],[363.1,0.928],[363.9,0.921],[364.9,0.938]];

const y2021 = [[0,1.0],[5,0.97],[10,0.95],[14,0.89],[17,0.865],[20,0.88],[22,0.93],[27,0.92],[32,0.9],[38,0.87],[42,0.81],[45,0.81],[47,0.85],[50,0.835],[55,0.83],[59,0.83],[60,0.875],[62,0.89],[66,0.9],[72,0.92],[80,0.94],[88,0.96],[95,0.98],[102,1.0],[107,1.0],[112,1.005],[118,1.01],[123,1.0],[130,0.99],[136,1.0],[141.7,1.006],[144.1,0.981],[145.3,1.006],[149.3,1.036],[157,1.086],[163,1.056],[167,1.066],[176.7,1.056],[179.9,1.096],[188.7,1.116],[192.7,1.141],[196.8,1.151],[200.8,1.156],[207.2,1.191],[212.8,1.186],[216.9,1.196],[222.9,1.216],[226.9,1.224],[234.9,1.223],[236.9,1.246],[241,1.276],[244.6,1.279],[247.9,1.295],[248.9,1.32],[251.9,1.305],[253.9,1.29],[255.1,1.255],[257.2,1.275],[258.8,1.295],[262.8,1.275],[264.8,1.295],[272.8,1.3],[276.8,1.33],[278.9,1.345],[282.9,1.33],[284.9,1.33],[286.1,1.295],[287.3,1.315],[289.3,1.315],[290.9,1.365],[294.9,1.355],[299,1.34],[300.2,1.318],[304.2,1.345],[305.8,1.325],[308,1.25],[311.6,1.253],[312.8,1.196],[314.4,1.141],[318.9,1.016],[320.1,1.056],[325.7,1.086],[327.7,1.091],[328.9,1.116],[331.7,1.116],[334.5,1.176],[337,1.151],[340.6,1.138],[341.8,1.151],[344.6,1.146],[346.6,1.106],[347.8,1.091],[351.8,1.096],[353,1.086],[355,1.089],[358.7,1.061],[360.5,1.045],[361.5,1.064],[363.5,1.096],[364.9,1.1]];

const seriesDefs = [
  { name: '2021', data: y2021, color: '#e2e2cb', width: 2 },
  { name: '2020', data: y2020, color: '#7c7c6a', width: 2.5 },
  { name: '2016', data: y2016, color: '#67675c', width: 2.5 },
  { name: '2022', data: y2022, color: '#46463c', width: 2.5 },
  { name: '2023', data: y2023, color: '#2f2f2a', width: 2.8 },
  { name: '2024', data: y2024, color: '#191919', width: 2.8 },
  { name: '2018', data: y2018, color: '#8b0000', width: 7 },
  { name: '2019', data: y2019, color: '#8b0000', width: 7 },
  { name: '2015', data: y2015, color: '#006400', width: 7 },
  { name: '2017', data: y2017, color: '#006400', width: 7 },
  { name: '2025', data: y2025, color: '#000000', width: 12 },
];

function buildOption() {
  const lineSeries = seriesDefs.map((s) => ({
    name: s.name,
    type: 'line',
    data: s.data,
    showSymbol: false,
    symbol: 'none',
    silent: true,
    clip: true,
    lineStyle: { color: s.color, width: s.width, cap: 'round', join: 'round' },
    emphasis: { disabled: true },
  }));
  const labelSeries = {
    name: 'labels',
    type: 'scatter',
    silent: true,
    z: 10,
    symbol: 'circle',
    symbolSize: 2,
    itemStyle: { color: 'rgba(0,0,0,0)' },
    data: labelYears.map((y, i) => [labelDay, labelValues[i], y]),
    label: {
      show: true,
      position: 'inside',
      formatter: (p: any) => p.value[2],
      fontFamily: FONT,
      fontSize: 46,
      lineHeight: 46,
      color: '#737373',
      textBorderWidth: 0,
      backgroundColor: 'rgba(255,255,255,0.45)',
      borderColor: 'rgba(0,0,0,0.5)',
      borderWidth: 2,
      borderRadius: 9,
      padding: [9, 15],
    },
    labelLayout: { hideOverlap: false },
  };
  return {
    animation: false,
    backgroundColor: '#d5e4eb',
    textStyle: { fontFamily: FONT },
    grid: { left: 198, right: 43, top: 184, bottom: 303, containLabel: false },
    xAxis: {
      type: 'value',
      min: 0,
      max: 365,
      axisLine: { show: true, onZero: false, lineStyle: { color: '#000', width: 3 } },
      axisTick: { show: true, inside: true, length: 20, customValues: tickDays, lineStyle: { color: '#000', width: 3 } },
      axisLabel: {
        show: true,
        customValues: tickDays,
        rotate: 90,
        margin: 46,
        fontSize: 45,
        fontFamily: FONT,
        color: '#000',
        formatter: (v: number) => {
          const i = tickDays.indexOf(Math.round(v));
          return i >= 0 ? tickLabels[i] : '';
        },
      },
      splitLine: { show: false },
    },
    yAxis: {
      type: 'value',
      min: Y_MIN,
      max: Y_MAX,
      axisLine: { show: false },
      axisTick: { show: false, customValues: yTicks },
      axisLabel: {
        show: true,
        customValues: yTicks,
        margin: 45,
        fontSize: 45,
        fontFamily: FONT,
        color: '#000',
        formatter: (v: number) => {
          const i = yTicks.findIndex((t) => Math.abs(t - v) < 1e-6);
          return i >= 0 ? yTickLabels[i] : '';
        },
      },
      splitLine: { show: true, lineStyle: { color: '#ffffff', width: 5 } },
      name: yAxisName,
      nameLocation: 'middle',
      nameGap: 114,
      nameMoveOverlap: false,
      nameTextStyle: { fontSize: 46, fontFamily: FONT, color: '#000' },
    },
    graphic: [
      { type: 'text', x: 197, y: 83, silent: true, style: { text: titleText, fill: '#000', fontSize: 69, lineHeight: 54, fontWeight: 'bold', fontFamily: FONT, align: 'left', verticalAlign: 'middle' } },
      { type: 'text', x: 198, y: 131, silent: true, style: { text: subtitleText, fill: '#000', fontSize: 46, lineHeight: 36, fontFamily: FONT, align: 'left', verticalAlign: 'middle' } },
      { type: 'text', x: 199, y: 1415, silent: true, z: -1, style: { text: watermarkText, fill: 'rgba(255,255,255,0.75)', fontSize: 72, fontWeight: 'bold', fontFamily: FONT, align: 'left', verticalAlign: 'middle' } },
    ],
    series: [...lineSeries, labelSeries],
  };
}

export default function App() {
  const ref = useRef<HTMLDivElement>(null);
  useEffect(() => {
    if (!ref.current) return;
    const chart = echarts.init(ref.current, undefined, { renderer: 'svg' });
    chart.setOption(buildOption() as any);
    return () => chart.dispose();
  }, []);
  return <div ref={ref} style={{ position: 'fixed', left: 0, top: 0, width: 3600, height: 1800 }} />;
}
